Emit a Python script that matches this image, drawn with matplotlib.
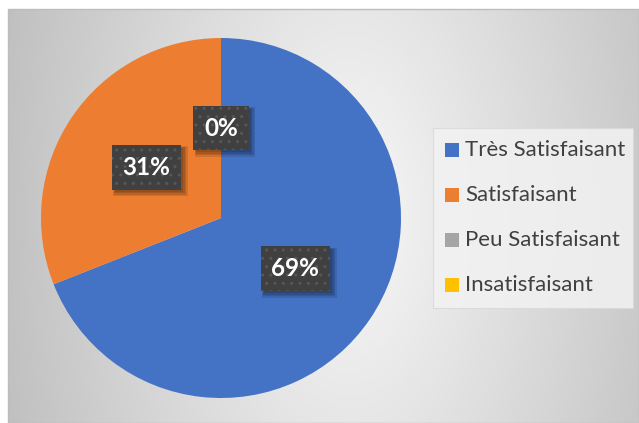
import numpy as np
import matplotlib
matplotlib.use("Agg")
import matplotlib.pyplot as plt
from matplotlib.patches import Rectangle
from matplotlib.transforms import IdentityTransform

categories = ["Très Satisfaisant", "Satisfaisant", "Peu Satisfaisant", "Insatisfaisant"]
values = [69, 31, 0, 0]
colors = ["#4472C4", "#ED7D31", "#A5A5A5", "#FFC000"]

W, H = 639, 423
plt.rcParams['font.family'] = ['Lato', 'DejaVu Sans']
plt.rcParams['hatch.color'] = '#575757'
plt.rcParams['hatch.linewidth'] = 1.0
fig = plt.figure(figsize=(W / 100, H / 100), dpi=100)
fig.patch.set_facecolor("white")

# background gradient (chart area)
bx0, by0 = 8, 9
bg = fig.add_axes([bx0 / W, 0, (W - bx0) / W, (H - by0) / H])
xs = np.arange(bx0, W) + 0.5
ys = np.arange(by0, H) + 0.5
X, Y = np.meshgrid(xs, ys)
d = np.sqrt(((X - 350) / 320) ** 2 + ((Y - 216) / 600) ** 2)
c = np.clip(248 - 50 * d, 185, 250) / 255.0
img = np.dstack([c, c, c])
bg.imshow(img, aspect="auto", interpolation="bilinear")
bg.set_axis_off()
fig.add_artist(Rectangle((bx0 / W, 0), (W - bx0) / W, (H - by0) / H, transform=fig.transFigure,
                         fill=False, edgecolor="#bdbdbd", linewidth=1.0))

# pie
cx, cy, R = 221, 218, 180
ax = fig.add_axes([(cx - R) / W, (H - cy - R) / H, 2 * R / W, 2 * R / H])
wedges, texts, autotexts = ax.pie(values, colors=colors, startangle=90, counterclock=False,
                                  radius=1.0, autopct=lambda p: f"{p:.0f}%", pctdistance=0.5,
                                  wedgeprops=dict(linewidth=0))
ax.set_xlim(-1, 1)
ax.set_ylim(-1, 1)
ax.set_axis_off()

lab_fs = 17.5
for t in autotexts:
    t.set_color("white")
    t.set_fontweight("bold")
    t.set_fontsize(lab_fs)
    t.set_zorder(5)
    t.set_bbox(dict(boxstyle="square,pad=0.45", facecolor="#404040", edgecolor="#575757",
                    linewidth=0, hatch=".."))

# soft drop shadows behind the label boxes
fig.canvas.draw()
renderer = fig.canvas.get_renderer()
seen = set()
for t in autotexts:
    bb = t.get_bbox_patch().get_window_extent(renderer)
    key = (round(bb.x0), round(bb.y0))
    if key in seen:
        continue
    seen.add(key)
    for ox, grow in [(4, 2.5), (3.5, 1.5), (3, 0.5), (2.5, -0.5)]:
        r = Rectangle((bb.x0 + ox - grow, bb.y0 - ox - grow),
                      bb.width + 2 * grow, bb.height + 2 * grow,
                      transform=IdentityTransform(), facecolor="black", edgecolor="none",
                      alpha=0.11, zorder=4, clip_on=False)
        ax.add_artist(r)

# legend box
lx0, ly0, lx1, ly1 = 433, 128, 633, 308
fig.add_artist(Rectangle((lx0 / W, 1 - ly1 / H), (lx1 - lx0) / W, (ly1 - ly0) / H,
                         transform=fig.transFigure, facecolor="#f2f2f2", edgecolor="#d9d9d9",
                         linewidth=0.8, alpha=0.85, zorder=2))
for i, (lab, col) in enumerate(zip(categories, colors)):
    yc = 150 + 45 * i
    fig.add_artist(Rectangle((445 / W, 1 - (yc + 7) / H), 14 / W, 14 / H,
                             transform=fig.transFigure, facecolor=col, edgecolor="none", zorder=3))
    fig.text(465 / W, 1 - yc / H, lab, ha="left", va="center", fontsize=16, color="#404040", zorder=3)

fig.savefig("out.png", dpi=100)
